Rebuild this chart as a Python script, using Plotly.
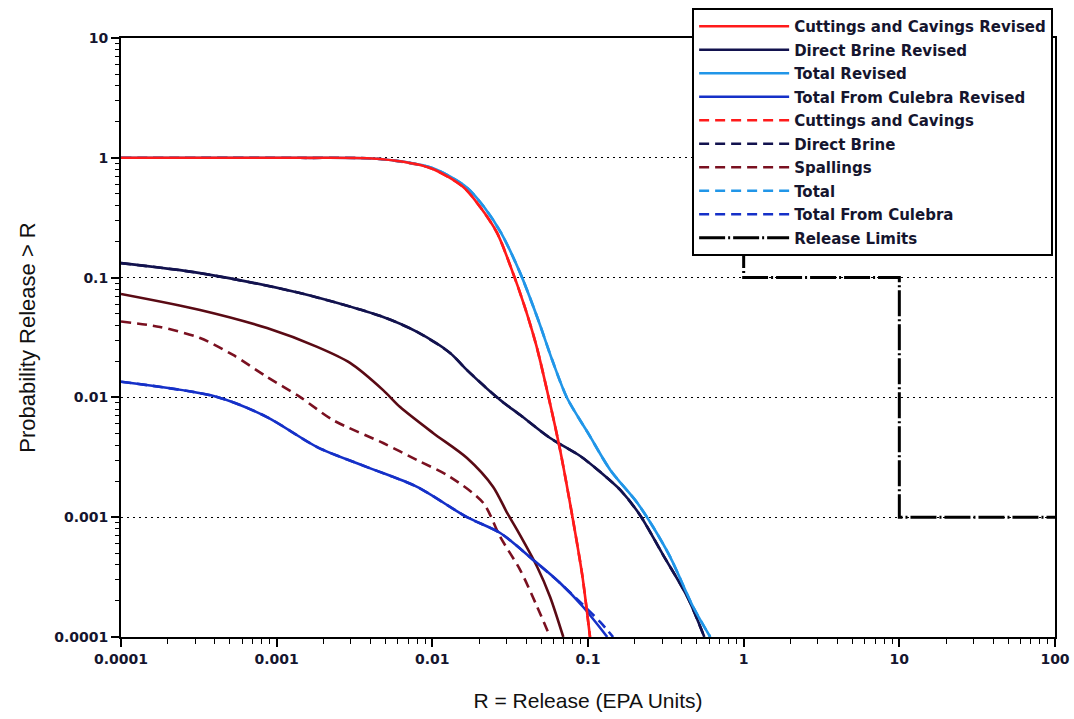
import plotly.graph_objects as go

# ---------------- data ----------------
cc_rev_x = [1e-4, 1.41e-3, 4.62e-3, 9.68e-3, 0.0158, 0.0203, 0.0261, 0.0321, 0.0389, 0.0465, 0.0554, 0.0662, 0.0791, 0.0918, 0.103]
cc_rev_y = [1.0, 1.0, 0.977, 0.822, 0.570, 0.388, 0.235, 0.120, 0.059, 0.0273, 0.0105, 0.00364, 0.00104, 3.3e-4, 1e-4]

db_rev_x = [1e-4, 3.22e-4, 1.41e-3, 4.83e-3, 7.98e-3, 0.0130, 0.0167, 0.0273, 0.0367, 0.0571, 0.0891, 0.120, 0.161, 0.216, 0.304, 0.435, 0.559]
db_rev_y = [0.132, 0.109, 0.0743, 0.0469, 0.0352, 0.0235, 0.0169, 0.0095, 0.00713, 0.00458, 0.00324, 0.00238, 0.00169, 0.00104, 4.83e-4, 2.16e-4, 1e-4]

tot_rev_x = [1e-4, 1.41e-3, 4.62e-3, 9.97e-3, 0.0165, 0.0215, 0.0277, 0.0367, 0.0479, 0.0589, 0.0734, 0.100, 0.139, 0.207, 0.262, 0.337, 0.474, 0.61]
tot_rev_y = [1.0, 1.0, 0.977, 0.822, 0.570, 0.388, 0.235, 0.109, 0.0443, 0.0205, 0.00989, 0.00505, 0.00248, 0.00132, 8.28e-4, 4.66e-4, 1.78e-4, 1e-4]

cul_rev_x = [1e-4, 4.14e-4, 8.67e-4, 1.82e-3, 3.81e-3, 7.98e-3, 0.0167, 0.0273, 0.0445, 0.0662, 0.0931, 0.133]
cul_rev_y = [0.0135, 0.0101, 0.00685, 0.00385, 0.00262, 0.00179, 1.0e-3, 7.38e-4, 4.4e-4, 2.82e-4, 1.78e-4, 1e-4]

spall_rev_x = [1e-4, 3.22e-4, 8.67e-4, 1.82e-3, 2.96e-3, 4.83e-3, 6.21e-3, 0.0101, 0.0167, 0.0246, 0.0303, 0.0351, 0.0472, 0.0571, 0.0694]
spall_rev_y = [0.073, 0.0537, 0.0379, 0.0264, 0.0194, 0.0115, 0.0083, 0.00505, 0.00312, 0.00179, 0.00108, 7.8e-4, 3.84e-4, 2.16e-4, 1e-4]

spall_x = [1e-4, 1.78e-4, 3.22e-4, 5.25e-4, 8.67e-4, 1.41e-3, 2.30e-3, 4.83e-3, 7.98e-3, 0.0130, 0.0212, 0.0273, 0.0367, 0.0472, 0.0571]
spall_y = [0.043, 0.0387, 0.0313, 0.0226, 0.0148, 0.0101, 0.00647, 0.00416, 0.0030, 0.00217, 0.00132, 6.84e-4, 3.62e-4, 1.78e-4, 1e-4]

cul_x = [1e-4, 4.14e-4, 8.67e-4, 1.82e-3, 3.81e-3, 7.98e-3, 0.0167, 0.0273, 0.0445, 0.0662, 0.0931, 0.120, 0.145]
cul_y = [0.0135, 0.0101, 0.00685, 0.00385, 0.00262, 0.00179, 1.0e-3, 7.38e-4, 4.4e-4, 2.82e-4, 1.85e-4, 1.33e-4, 1e-4]

# original (dashed) curves that coincide with the revised ones in the picture
cc_x, cc_y = cc_rev_x, cc_rev_y
db_x, db_y = db_rev_x, db_rev_y
tot_x, tot_y = tot_rev_x, tot_rev_y

limit_x = [1, 1, 10, 10, 100]
limit_y = [10, 0.1, 0.1, 0.001, 0.001]

x_ticks = [1e-4, 1e-3, 1e-2, 1e-1, 1, 10, 100]
x_ticktext = ["0.0001", "0.001", "0.01", "0.1", "1", "10", "100"]
y_ticks = [1e-4, 1e-3, 1e-2, 1e-1, 1, 10]
y_ticktext = ["0.0001", "0.001", "0.01", "0.1", "1", "10"]

# ---------------- styles ----------------
RED = "#FF1A1A"
NAVY = "#12124E"
LBLUE = "#2196E8"
BLUE = "#1530C8"
DRED_SOLID = "#5A0A14"
DRED = "#7A1020"
W = 2.6
DASH = "10px,6px"

fig = go.Figure()

def add(x, y, name, color, dash="solid", rank=0, show=True, width=W):
    fig.add_trace(go.Scatter(
        x=x, y=y, name=name, mode="lines",
        line=dict(color=color, width=width, dash=dash, shape="spline", smoothing=0.8),
        legendrank=rank, showlegend=show, legendgroup=name,
    ))

# dashed originals underneath
add(cc_x, cc_y, "Cuttings and Cavings", RED, DASH, 5)
add(db_x, db_y, "Direct Brine", NAVY, DASH, 6)
add(tot_x, tot_y, "Total", LBLUE, DASH, 8)
add(spall_x, spall_y, "Spallings", DRED, DASH, 7)
add(cul_x, cul_y, "Total From Culebra", BLUE, DASH, 9)
# revised (solid)
add(spall_rev_x, spall_rev_y, "Spallings Revised", DRED_SOLID, "solid", 20, show=False)
add(db_rev_x, db_rev_y, "Direct Brine Revised", NAVY, "solid", 2)
add(cul_rev_x, cul_rev_y, "Total From Culebra Revised", BLUE, "solid", 4)
add(tot_rev_x, tot_rev_y, "Total Revised", LBLUE, "solid", 3)
add(cc_rev_x, cc_rev_y, "Cuttings and Cavings Revised", RED, "solid", 1)

fig.add_trace(go.Scatter(
    x=limit_x, y=limit_y, name="Release Limits", mode="lines",
    line=dict(color="black", width=3, dash="26px,3px,2px,3px"),
    legendrank=10, legendgroup="limits",
))

minor_x = [m * 10 ** e for e in range(-4, 2) for m in range(2, 10)]
minor_y = [m * 10 ** e for e in range(-4, 1) for m in range(2, 10)]

TICKFONT = dict(family="DejaVu Sans", size=14, color="#15152e", weight="bold")

fig.update_layout(
    width=1074, height=719,
    margin=dict(l=121, r=19, t=38, b=82, autoexpand=False),
    paper_bgcolor="white", plot_bgcolor="white",
    font=dict(family="Liberation Sans, Arial", color="#111"),
    xaxis=dict(
        type="log", range=[-4, 2], automargin=False,
        tickmode="array", tickvals=x_ticks, ticktext=x_ticktext,
        ticks="outside", ticklen=8, tickwidth=1.5, tickcolor="black",
        tickfont=TICKFONT,
        minor=dict(tickmode="array", tickvals=minor_x, ticks="outside", ticklen=5, tickwidth=1.2, tickcolor="black", showgrid=False),
        showline=True, linecolor="black", linewidth=2, mirror=True,
        showgrid=False, zeroline=False,
        title=dict(text="R = Release (EPA Units)", font=dict(family="Liberation Sans, Arial", size=21, color="#111"), standoff=28),
    ),
    yaxis=dict(
        type="log", range=[-4, 1], automargin=False,
        tickmode="array", tickvals=y_ticks, ticktext=y_ticktext,
        ticks="outside", ticklen=8, tickwidth=1.5, tickcolor="black",
        tickfont=TICKFONT,
        minor=dict(tickmode="array", tickvals=minor_y, ticks="outside", ticklen=4, tickwidth=1.2, tickcolor="black", showgrid=False),
        showline=True, linecolor="black", linewidth=2, mirror=True,
        showgrid=True, gridcolor="black", gridwidth=1.3, griddash="2px,4px",
        zeroline=False,
        title=dict(text="Probability Release > R", font=dict(family="Liberation Sans, Arial", size=22, color="#111"), standoff=12),
    ),
    legend=dict(
        x=0.998, y=1.05, xanchor="right", yanchor="top",
        bgcolor="white", bordercolor="black", borderwidth=2,
        font=dict(family="DejaVu Sans", size=15, color="#15152e", weight="bold"),
        itemwidth=90, tracegroupgap=1,
    ),
)

fig.write_html("out.html")
